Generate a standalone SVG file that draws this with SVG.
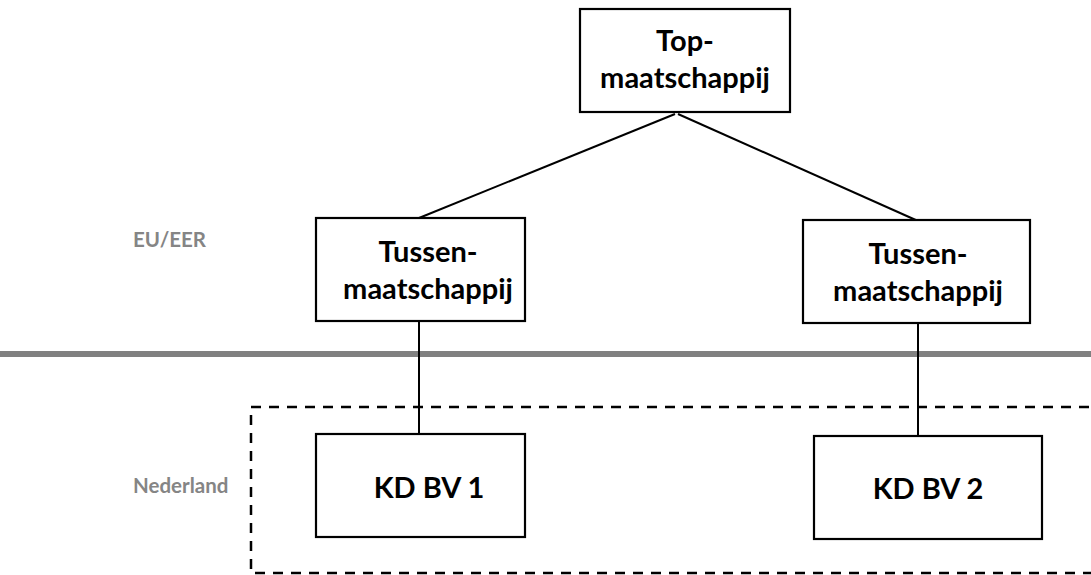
<svg xmlns="http://www.w3.org/2000/svg" width="1091" height="575" viewBox="0 0 1091 575">
  <style>
    .box { fill: #ffffff; stroke: #000000; stroke-width: 2.2; }
    .lbl { font-family: Lato, "Open Sans", "Liberation Sans", sans-serif; font-weight: 700; font-size: 29px; fill: #000000; text-anchor: middle; }
    .zone { font-family: Lato, "Open Sans", "Liberation Sans", sans-serif; font-weight: 700; font-size: 20.5px; fill: #858585; }
    .link { stroke: #000000; stroke-width: 2; fill: none; }
  </style>
  <rect width="1091" height="575" fill="#ffffff"/>

  <!-- jurisdiction labels and border -->
  <text class="zone" x="133" y="247">EU/EER</text>
  <text class="zone" x="133" y="493">Nederland</text>
  <line x1="0" y1="354" x2="1091" y2="354" stroke="#808080" stroke-width="6"/>
  <rect id="nl-zone" x="251" y="407" width="860" height="166" fill="none" stroke="#000000" stroke-width="2.5" stroke-dasharray="10 8"/>

  <g id="connectors">
    <line class="link" x1="675" y1="114" x2="419" y2="218"/>
    <line class="link" x1="678" y1="114" x2="918" y2="221"/>
    <line class="link" x1="419" y1="321" x2="419" y2="434"/>
    <line class="link" x1="918" y1="323" x2="918" y2="436"/>
  </g>

  <g id="top">
    <rect class="box" x="580" y="9" width="210" height="103"/>
    <text class="lbl" x="685" y="51">Top-</text>
    <text class="lbl" x="685" y="88">maatschappij</text>
  </g>

  <g id="tussen-1">
    <rect class="box" x="316" y="218" width="209" height="103"/>
    <text class="lbl" x="428" y="262">Tussen-</text>
    <text class="lbl" x="428" y="299">maatschappij</text>
  </g>

  <g id="tussen-2">
    <rect class="box" x="803" y="220" width="227" height="103"/>
    <text class="lbl" x="918" y="264">Tussen-</text>
    <text class="lbl" x="918" y="301">maatschappij</text>
  </g>

  <g id="kdbv-1">
    <rect class="box" x="316" y="434" width="209" height="103"/>
    <text class="lbl" x="429" y="498">KD BV 1</text>
  </g>

  <g id="kdbv-2">
    <rect class="box" x="814" y="436" width="228" height="103"/>
    <text class="lbl" x="928" y="499">KD BV 2</text>
  </g>
</svg>
